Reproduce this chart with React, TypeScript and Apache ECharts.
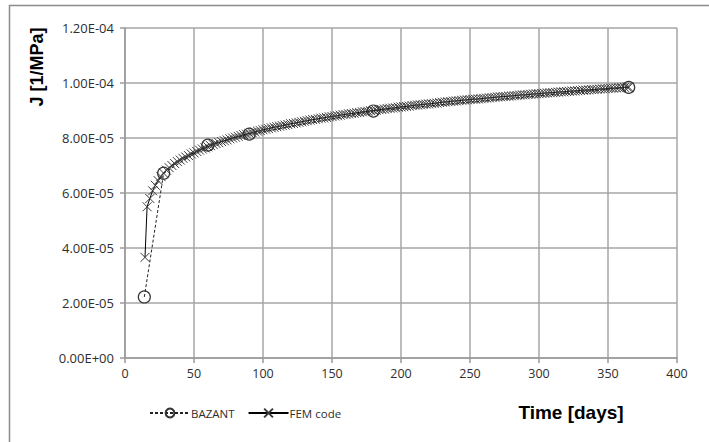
import React, { useEffect, useRef } from "react";
import * as echarts from "echarts";

// BAZANT model (J in 1e-5 1/MPa)
const bazantTime = [14, 28, 60, 90, 180, 365];
const bazantJ = [2.22, 6.72, 7.74, 8.14, 8.98, 9.84];

// FEM code results (J in 1e-5 1/MPa)
const femTime = [
  14.5, 16, 18, 20, 22, 24, 26, 28, 30, 32, 34, 36, 38, 40,
  42, 44, 46, 48, 50, 52, 54, 56, 58, 60, 62, 64, 66, 68, 70, 72, 74, 76, 78, 80,
  82, 84, 86, 88, 90, 92, 94, 96, 98, 100, 102, 104, 106, 108, 110, 112, 114, 116, 118, 120,
  122, 124, 126, 128, 130, 132, 134, 136, 138, 140, 142, 144, 146, 148, 150, 152, 154, 156, 158, 160,
  162, 164, 166, 168, 170, 172, 174, 176, 178, 180, 182, 184, 186, 188, 190, 192, 194, 196, 198, 200,
  202, 204, 206, 208, 210, 212, 214, 216, 218, 220, 222, 224, 226, 228, 230, 232, 234, 236, 238, 240,
  242, 244, 246, 248, 250, 252, 254, 256, 258, 260, 262, 264, 266, 268, 270, 272, 274, 276, 278, 280,
  282, 284, 286, 288, 290, 292, 294, 296, 298, 300, 302, 304, 306, 308, 310, 312, 314, 316, 318, 320,
  322, 324, 326, 328, 330, 332, 334, 336, 338, 340, 342, 344, 346, 348, 350, 352, 354, 356, 358, 360,
  362, 364, 365,
];
const femJ = [
  3.66, 5.5, 5.8, 6.08, 6.28, 6.45, 6.6, 6.72, 6.83, 6.92, 7.0, 7.07, 7.14, 7.2,
  7.26, 7.31, 7.36, 7.42, 7.46, 7.51, 7.56, 7.6, 7.64, 7.68, 7.72, 7.76, 7.8, 7.83, 7.87, 7.9, 7.93, 7.97, 8.0, 8.03,
  8.06, 8.09, 8.12, 8.14, 8.17, 8.2, 8.22, 8.25, 8.27, 8.3, 8.32, 8.34, 8.37, 8.39, 8.41, 8.43, 8.45, 8.47, 8.49, 8.52,
  8.53, 8.55, 8.57, 8.59, 8.61, 8.63, 8.65, 8.67, 8.68, 8.7, 8.72, 8.73, 8.75, 8.77, 8.78, 8.8, 8.81, 8.83, 8.85, 8.86,
  8.88, 8.89, 8.9, 8.92, 8.93, 8.95, 8.96, 8.97, 8.99, 9.0, 9.01, 9.03, 9.04, 9.05, 9.07, 9.08, 9.09, 9.1, 9.12, 9.13,
  9.14, 9.15, 9.16, 9.18, 9.19, 9.2, 9.21, 9.22, 9.23, 9.24, 9.25, 9.26, 9.27, 9.29, 9.3, 9.31, 9.32, 9.33, 9.34, 9.35,
  9.36, 9.37, 9.38, 9.39, 9.4, 9.41, 9.41, 9.42, 9.43, 9.44, 9.45, 9.46, 9.47, 9.48, 9.49, 9.5, 9.51, 9.51, 9.52, 9.53,
  9.54, 9.55, 9.56, 9.57, 9.57, 9.58, 9.59, 9.6, 9.61, 9.61, 9.62, 9.63, 9.64, 9.65, 9.65, 9.66, 9.67, 9.68, 9.68, 9.69,
  9.7, 9.71, 9.71, 9.72, 9.73, 9.74, 9.74, 9.75, 9.76, 9.76, 9.77, 9.78, 9.79, 9.79, 9.8, 9.81, 9.81, 9.82, 9.83, 9.83,
  9.84, 9.85, 9.85,
];

const xTicks = [0, 50, 100, 150, 200, 250, 300, 350, 400];
const yMax = 1.2e-4;
const yStep = 2e-5;

function fmtSci(v: number): string {
  if (v === 0) return "0.00E+00";
  const e = Math.floor(Math.log10(Math.abs(v)) + 1e-9);
  const m = v / Math.pow(10, e);
  const sign = e < 0 ? "-" : "+";
  const ae = Math.abs(e);
  return m.toFixed(2) + "E" + sign + (ae < 10 ? "0" + ae : String(ae));
}

const FONT = "'Open Sans', 'Noto Sans', sans-serif";

export default function App() {
  const ref = useRef<HTMLDivElement>(null);
  useEffect(() => {
    if (!ref.current) return;
    const chart = echarts.init(ref.current, undefined, { renderer: "svg" });
    const bazData = bazantTime.map((t, i) => [t, bazantJ[i] * 1e-5]);
    const femData = femTime.map((t, i) => [t, femJ[i] * 1e-5]);
    chart.setOption({
      animation: false,
      backgroundColor: "#ffffff",
      grid: { left: 125, right: 32, top: 28, bottom: 84, containLabel: false },
      xAxis: {
        type: "value",
        min: xTicks[0],
        max: xTicks[xTicks.length - 1],
        interval: 50,
        axisLine: { show: true, onZero: false, lineStyle: { color: "#9a9a9a", width: 1.5 } },
        axisTick: { show: true, length: 5, lineStyle: { color: "#9a9a9a", width: 1.5 } },
        axisLabel: { color: "#2e2e2e", fontSize: 12.5, fontFamily: FONT, margin: 9 },
        splitLine: { show: true, lineStyle: { color: "#a6a6a6", width: 1.5 } },
      },
      yAxis: {
        type: "value",
        min: 0,
        max: yMax,
        interval: yStep,
        axisLine: { show: true, lineStyle: { color: "#9a9a9a", width: 1.5 } },
        axisTick: { show: true, length: 5, lineStyle: { color: "#9a9a9a", width: 1.5 } },
        axisLabel: { color: "#2e2e2e", fontSize: 13, fontFamily: FONT, margin: 11, formatter: (v: number) => fmtSci(v) },
        splitLine: { show: true, lineStyle: { color: "#a6a6a6", width: 1.5 } },
      },
      legend: {
        left: 144,
        top: 402,
        itemWidth: 40,
        itemHeight: 11,
        itemGap: 13,
        textStyle: { color: "#2e2e2e", fontSize: 11.5, fontFamily: FONT, padding: [0, 0, 0, -4] },
        data: [{ name: "BAZANT" }, { name: "FEM code" }],
      },
      graphic: [
        {
          type: "rect",
          shape: { x: 9.5, y: 5.5, width: 760, height: 500 },
          style: { fill: "none", stroke: "#8c8c8c", lineWidth: 1.5 },
          silent: true,
          z: -10,
        },
        {
          type: "text",
          x: 37,
          y: 67,
          rotation: Math.PI / 2,
          style: {
            text: "J [1/MPa]",
            fill: "#000",
            font: "bold 18px 'Liberation Sans', Arial, sans-serif",
            align: "center",
            verticalAlign: "middle",
          },
        },
        {
          type: "text",
          x: 571,
          y: 412,
          style: {
            text: "Time [days]",
            fill: "#000",
            font: "bold 19px 'Liberation Sans', Arial, sans-serif",
            align: "center",
            verticalAlign: "middle",
          },
        },
      ],
      series: [
        {
          name: "FEM code",
          type: "line",
          data: femData,
          symbol: "path://M0,0L10,10M10,0L0,10",
          symbolSize: 9,
          showAllSymbol: true,
          lineStyle: { color: "#000", width: 1, type: "solid" },
          itemStyle: { color: "rgba(0,0,0,0)", borderColor: "#3a3a3a", borderWidth: 1 },
          z: 2,
        },
        {
          name: "BAZANT",
          type: "line",
          data: bazData,
          symbol: "circle",
          symbolSize: 12,
          showAllSymbol: true,
          lineStyle: { color: "#222", width: 1, type: [3, 2] },
          itemStyle: { color: "rgba(255,255,255,0)", borderColor: "#333", borderWidth: 1.2 },
          z: 3,
        },
      ],
    });
    return () => chart.dispose();
  }, []);
  return (
    <div
      ref={ref}
      style={{ position: "fixed", left: 0, top: 0, width: 709, height: 442, background: "#fff" }}
    />
  );
}
